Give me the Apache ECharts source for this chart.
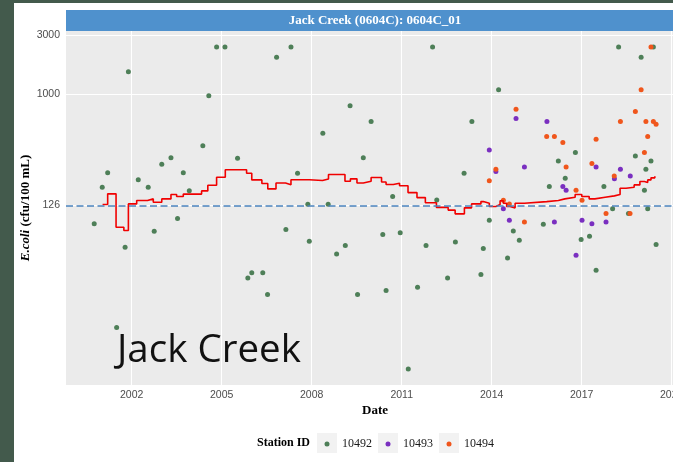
<!DOCTYPE html>
<html>
<head>
<meta charset="utf-8">
<script src="https://cdn.jsdelivr.net/npm/echarts@6/dist/echarts.min.js"></script>
<style>
  html, body { margin: 0; padding: 0; background: #ffffff; }
  #chart { width: 673px; height: 462px; }
</style>
</head>
<body>
<div id="chart"></div>
<script>
// E. coli samples (cfu/100 mL) at the three Jack Creek stations
const dates10492 = [
  '2000-10-02','2001-01-08','2001-03-15','2001-07-02','2001-10-13','2001-11-22','2002-03-22','2002-07-21',
  '2002-10-02','2003-01-02','2003-04-24','2003-07-13','2003-09-21','2003-12-03','2004-05-16','2004-07-28',
  '2004-10-31','2005-02-10','2005-07-13','2005-11-15','2006-01-02','2006-05-16','2006-07-13','2006-10-31',
  '2007-02-21','2007-04-24','2007-07-13','2007-11-15','2007-12-03','2008-05-16','2008-07-20','2008-10-31',
  '2009-02-14','2009-04-13','2009-07-13','2009-09-21','2009-12-25','2010-05-16','2010-06-25','2010-09-13',
  '2010-12-14','2011-03-22','2011-07-13','2011-10-24','2012-01-12','2012-03-03','2012-07-13','2012-10-16',
  '2013-01-30','2013-05-05','2013-08-23','2013-09-21','2013-12-03','2014-03-26','2014-07-13','2014-09-21',
  '2014-12-03','2015-09-21','2015-12-03','2016-03-22','2016-06-14','2016-10-16','2016-12-25','2017-04-06',
  '2017-06-25','2017-09-28','2018-01-12','2018-03-26','2018-07-24','2018-10-16','2018-12-25','2019-02-03',
  '2019-02-21','2019-03-15','2019-04-24','2019-05-23','2019-06-25'
];
const values10492 = [
  90, 177, 233, 13, 58, 1530, 204, 177,
  78, 272, 308, 99, 233, 166, 384, 975,
  2419.6, 2419.6, 304, 32.7, 36, 36, 24, 2002,
  80.6, 2419.6, 230, 129, 64.8, 485, 129, 51,
  59.8, 810, 24, 308, 604, 73.4, 25.9, 149,
  75.8, 6, 27.5, 59.8, 2419.6, 140, 32.7, 64,
  230, 604, 34.8, 56.5, 95.8, 1090, 47.5, 78.6,
  66, 89, 180, 290, 210, 339, 67, 71,
  37.7, 180, 119, 2419.6, 108.6, 318, 2002, 168,
  248, 119, 290, 2419.6, 61
];

const dates10493 = [
  '2013-12-03','2014-02-21','2014-05-23','2014-08-04','2014-10-24','2015-02-03','2015-11-04','2016-02-03',
  '2016-05-16','2016-06-25','2016-10-24','2017-01-05','2017-05-05','2017-06-25','2017-10-24','2018-02-03',
  '2018-04-17','2018-08-15'
];
const values10493 = [
  356, 238, 119, 96, 638, 259, 604, 93,
  180, 168, 50, 96, 90, 259, 93, 208,
  248, 219
];

const dates10494 = [
  '2013-12-03','2014-02-21','2014-05-23','2014-08-04','2014-10-24','2015-02-03','2015-11-01','2016-02-03',
  '2016-05-16','2016-06-25','2016-10-24','2017-01-05','2017-05-05','2017-06-25','2017-10-24','2018-02-01',
  '2018-04-17','2018-08-12','2018-10-16','2018-12-25','2019-02-03','2019-02-21','2019-03-15','2019-04-24',
  '2019-05-23','2019-06-25'
];
const values10494 = [
  200, 248, 139, 130, 759, 93, 456, 456,
  408, 259, 168, 139, 276, 434, 108.6, 219,
  604, 108.6, 727, 1090, 339, 604, 456, 2419.6,
  604, 574
];

// Rolling geometric mean (step line)
const geomeanDates = [
  '2001-01-12','2001-03-15','2001-06-25','2001-09-28','2001-11-22','2002-03-03','2002-07-13','2002-09-21',
  '2003-01-02','2003-04-24','2003-07-02','2003-09-21','2004-05-01','2004-07-16','2004-10-31','2005-02-14',
  '2005-10-31','2006-01-02','2006-05-05','2006-07-16','2006-10-24','2007-02-17','2007-04-24','2007-12-03',
  '2008-05-12','2008-07-24','2009-02-10','2009-04-17','2009-07-06','2009-09-21','2009-12-25','2010-05-01',
  '2010-06-25','2010-09-21','2010-12-06','2011-03-19','2011-07-06','2011-10-16','2012-02-28','2012-07-20',
  '2012-10-13','2013-02-03','2013-05-01','2013-08-23','2013-09-21','2013-12-03','2014-02-21','2014-04-13',
  '2014-05-23','2014-07-02','2014-08-11','2014-10-13','2015-02-03','2015-11-01','2016-03-22','2016-06-10',
  '2016-10-13','2017-01-02','2017-04-02','2017-06-10','2017-10-13','2018-02-03','2018-04-13','2018-06-25',
  '2018-10-01','2018-12-10','2019-02-03','2019-03-15','2019-04-24','2019-06-10'
];
const geomeanValues = [
  128.5, 156.8, 84.1, 79.1, 130.1, 138.4, 142.8, 134.1,
  142.8, 154.8, 149.1, 156.2, 165.8, 184.1, 213.6, 245.8,
  230.2, 203.5, 190, 172.1, 191.8, 185.8, 204, 201,
  206.7, 224.7, 198.3, 207.4, 191.8, 198.3, 212.5, 195.4,
  186.5, 191.1, 182.4, 160.6, 146.3, 132.9, 121.8, 115.9,
  108, 120.8, 130.1, 135.8, 131.6, 123.8, 128.5, 138.1,
  131.6, 123.8, 120.8, 131.6, 135.8, 138.4, 142.8, 147.2,
  154.8, 149.1, 142.8, 147.2, 151.1, 154.8, 174.1, 177.4,
  185.4, 197.2, 193.6, 203.5, 211.3, 218
];

const criterion = 126;
const stationIds = ['10492', '10493', '10494'];
const stationColors = ['#4e7f58', '#7a2fc0', '#f0561c'];
const xTickYears = [2002, 2005, 2008, 2011, 2014, 2017, 2020];
const yTickValues = [126, 1000, 3000];
const xRange = ['1999-10-24', '2020-05-30'];

// 'YYYY-MM-DD' -> fractional year, so the date axis can be a plain value axis
function toYear(s) {
  const [y, m, d] = s.split('-').map(Number);
  const start = Date.UTC(y, 0, 1);
  const end = Date.UTC(y + 1, 0, 1);
  return y + (Date.UTC(y, m - 1, d) - start) / (end - start);
}
const pairs = (d, v) => d.map((x, i) => [toYear(x), v[i]]);

const SERIF = '"Liberation Serif", "Times New Roman", serif';
const SANS = '"Liberation Sans", Arial, sans-serif';

const chart = echarts.init(document.getElementById('chart'), null, { renderer: 'canvas' });

const stationData = [pairs(dates10492, values10492), pairs(dates10493, values10493), pairs(dates10494, values10494)];

// legend key boxes (grey squares behind the legend dots)
const keyBoxes = [317, 378, 439].map(x => ({
  type: 'rect', z: -1, shape: { x: x, y: 433, width: 20, height: 20 }, style: { fill: '#f2f2f2' }
}));

const option = {
  animation: false,
  backgroundColor: '#ffffff',
  grid: {
    left: 66, top: 31, width: 618, bottom: 77,
    outerBoundsMode: 'none', containLabel: false,
    show: true, backgroundColor: '#ebebeb', borderWidth: 0
  },
  xAxis: {
    type: 'value',
    min: toYear(xRange[0]),
    max: toYear(xRange[1]),
    axisLine: { show: false },
    axisTick: { show: false, customValues: xTickYears },
    axisLabel: {
      customValues: xTickYears,
      formatter: v => String(Math.round(v)),
      color: '#4d4d4d', fontFamily: SANS, fontSize: 10.5, margin: 5
    },
    splitLine: { show: true, lineStyle: { color: '#ffffff', width: 1.1 } },
    name: 'Date',
    nameLocation: 'middle',
    nameGap: 19,
    nameMoveOverlap: false,
    nameTextStyle: { fontFamily: SERIF, fontWeight: 'bold', fontSize: 13, color: '#000000', verticalAlign: 'top' }
  },
  yAxis: {
    type: 'log',
    logBase: 10,
    min: 4.445,
    max: 3266,
    axisLine: { show: false },
    axisTick: { show: false, customValues: yTickValues },
    axisLabel: {
      customValues: yTickValues,
      formatter: v => String(Math.round(v)),
      color: '#4d4d4d', fontFamily: SANS, fontSize: 10.5, margin: 6
    },
    splitLine: { show: true, lineStyle: { color: '#ffffff', width: 1.1 } },
    name: '{i|E.coli} (cfu/100 mL)',
    nameLocation: 'middle',
    nameGap: 34,
    nameMoveOverlap: false,
    nameTextStyle: {
      fontFamily: SERIF, fontWeight: 'bold', fontSize: 13, color: '#000000',
      rich: { i: { fontFamily: SERIF, fontWeight: 'bold', fontStyle: 'italic', fontSize: 13, color: '#000000' } }
    }
  },
  legend: {
    data: stationIds,
    left: 324.5,
    top: 438,
    padding: 0,
    icon: 'circle',
    itemWidth: 20,
    itemHeight: 5,
    itemGap: 13.5,
    selectedMode: false,
    textStyle: { fontFamily: SERIF, fontSize: 12, color: '#1a1a1a' }
  },
  series: [
    {
      name: 'Criterion',
      type: 'line',
      data: [],
      z: 1,
      markLine: {
        silent: true,
        symbol: 'none',
        label: { show: false },
        lineStyle: { color: '#4a83bd', width: 1.5, type: [7, 3.5] },
        data: [{ yAxis: criterion }]
      }
    },
    ...stationIds.map((id, k) => ({
      name: id,
      type: 'scatter',
      data: stationData[k],
      symbol: 'circle',
      symbolSize: 5,
      z: 2,
      itemStyle: { color: stationColors[k], opacity: 1 }
    })),
    {
      name: 'Geometric mean',
      type: 'line',
      step: 'end',
      data: pairs(geomeanDates, geomeanValues),
      showSymbol: false,
      z: 3,
      lineStyle: { color: '#f00000', width: 1.6 },
      itemStyle: { color: '#f00000' }
    }
  ],
  graphic: [
    { type: 'rect', z: 100, shape: { x: 0, y: 0, width: 14, height: 462 }, style: { fill: '#435a4c' } },
    { type: 'rect', z: 100, shape: { x: 0, y: 0, width: 673, height: 3 }, style: { fill: '#435a4c' } },
    { type: 'rect', z: 100, shape: { x: 66, y: 10, width: 618, height: 21 }, style: { fill: '#4f91cd' } },
    {
      type: 'text', z: 101,
      style: {
        x: 375, y: 20.5, text: 'Jack Creek (0604C): 0604C_01', align: 'center', verticalAlign: 'middle',
        fill: '#ffffff', font: 'bold 13px "Liberation Serif", "Times New Roman", serif'
      }
    },
    {
      type: 'text', z: 101,
      style: {
        x: 257, y: 443, text: 'Station ID', align: 'left', verticalAlign: 'middle',
        fill: '#000000', font: 'bold 12px "Liberation Serif", "Times New Roman", serif'
      }
    },
    ...keyBoxes,
    {
      type: 'text', z: 101,
      style: {
        x: 117, y: 351, text: 'Jack Creek', align: 'left', verticalAlign: 'middle',
        fill: '#111111', font: '38.5px "Open Sans", "Noto Sans", sans-serif'
      }
    }
  ]
};

chart.setOption(option);
</script>
</body>
</html>
